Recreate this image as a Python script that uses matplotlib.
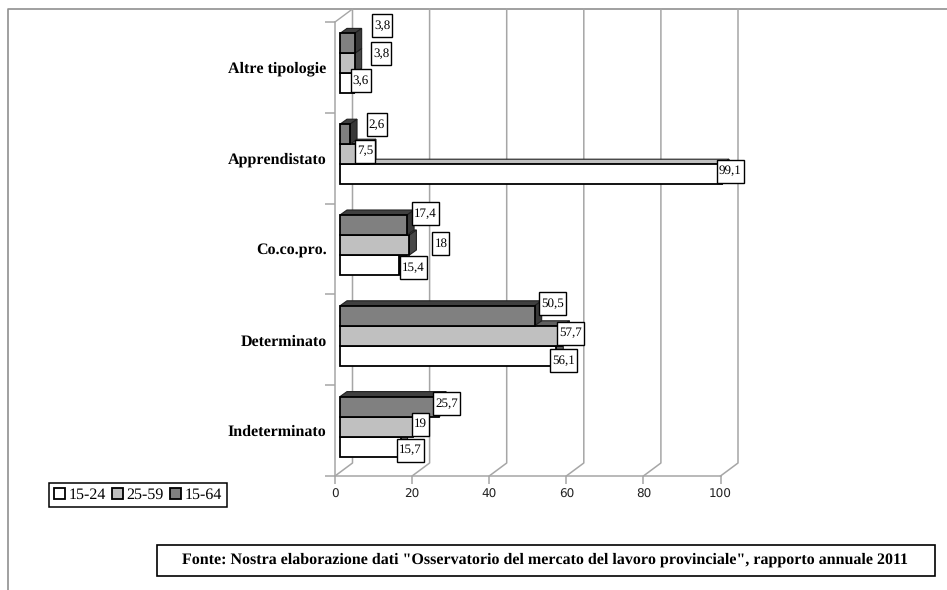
#!/usr/bin/env python3
import matplotlib
matplotlib.use('Agg')
import matplotlib.pyplot as plt
from matplotlib.patches import Polygon, Rectangle

categories = ['Indeterminato', 'Determinato', 'Co.co.pro.', 'Apprendistato', 'Altre tipologie']
ages = ['15-24', '25-59', '15-64']
v_15_24 = [15.7, 56.1, 15.4, 99.1, 3.6]
v_25_59 = [19, 57.7, 18, 7.5, 3.8]
v_15_64 = [25.7, 50.5, 17.4, 2.6, 3.8]
labels_15_24 = ['15,7', '56,1', '15,4', '99,1', '3,6']
labels_25_59 = ['19', '57,7', '18', '7,5', '3,8']
labels_15_64 = ['25,7', '50,5', '17,4', '2,6', '3,8']
x_ticks = [0, 20, 40, 60, 80, 100]

# label boxes were moved by hand in the original: pixels from the bar end / bar centre
shift_15_24 = [(10, 3.5), (7, 5), (14, 2.5), (8, -3), (7, -2.5)]
shift_25_59 = [(7.5, -2.5), (8, -2.5), (31.5, -1.5), (-3.5, -3), (26.5, -10)]
shift_15_64 = [(7.5, -3), (18, -12), (18, -11.5), (27, -9.5), (27.5, -18)]

W, H = 947, 590
plt.rcParams['font.family'] = ['Liberation Serif', 'DejaVu Sans']
plt.rcParams['text.hinting'] = 'none'
plt.rcParams['text.hinting_factor'] = 1
fig = plt.figure(figsize=(W / 100, H / 100), dpi=100, facecolor='white')

# px layer for the sheet frame and the source box
bg = fig.add_axes([0, 0, 1, 1])
bg.set_xlim(0, W)
bg.set_ylim(H, 0)
bg.axis('off')
bg.plot([8, 8, W], [H, 9, 9], color='#909090', lw=1.2)
bg.add_patch(Rectangle((156.5, 544.5), 778, 31, fc='white', ec='black', lw=1.2))
bg.text(545, 560, 'Fonte: Nostra elaborazione dati "Osservatorio del mercato del lavoro provinciale", rapporto annuale 2011',
        ha='center', va='center', fontsize=11.18, weight='bold')

# plot box = front of the 3D chart
L, R, T, B = 335, 720.5, 22, 476
ax = fig.add_axes([L / W, (H - B) / H, (R - L) / W, (B - T) / H])
ax.patch.set_alpha(0)
ax.set_xlim(0, 100)
ax.set_ylim(-0.5, 4.5)
PX = (R - L) / 100
PY = (B - T) / 5

GRID = '#a6a6a6'
wall_x, wall_y = 17.5 / PX, 13 / PY
for t in x_ticks:
    ax.plot([t, t + wall_x, t + wall_x], [-0.5, -0.5 + wall_y, 4.5 + wall_y], color=GRID, lw=1.1, clip_on=False, zorder=1)
ax.plot([0, wall_x], [4.5, 4.5 + wall_y], color=GRID, lw=1, clip_on=False, zorder=1)

for s in ['top', 'right']:
    ax.spines[s].set_visible(False)
for s in ['left', 'bottom']:
    ax.spines[s].set_color(GRID)
    ax.spines[s].set_linewidth(1.1)
ax.set_xticks(x_ticks)
ax.set_xticklabels([str(t) for t in x_ticks], family='DejaVu Sans', fontsize=8.4, color='#222222')
ax.tick_params(axis='x', length=6, width=1.1, color=GRID, pad=3.5)
ax.set_yticks([i - 0.5 for i in range(6)])
ax.set_yticklabels([])
ax.tick_params(axis='y', length=7, width=1.1, color=GRID)
ax.set_yticks(range(5), minor=True)
ax.set_yticklabels(categories, minor=True, fontsize=11.5, weight='bold')
ax.tick_params(axis='y', which='minor', length=0, pad=6)

off_x, off_y = 5 / PX, 4 / PY
depth_x, depth_y = 7 / PX, 5 / PY
bar_h = 20 / PY

# white first, dark last: each front face hides the top of the bar below
series = [
    (v_15_24, labels_15_24, shift_15_24, 'white', '#c0c0c0', '#606060', 20 / PY * -1),
    (v_25_59, labels_25_59, shift_25_59, '#c0c0c0', '#606060', '#484848', 0),
    (v_15_64, labels_15_64, shift_15_64, '#808080', '#404040', '#383838', 20 / PY),
]
handles = []
for n, (vals, labs, shifts, face, top, side, dy) in enumerate(series):
    for i, v in enumerate(vals):
        y = i + off_y + dy
        x1 = v + off_x
        y0, y1 = y - bar_h / 2, y + bar_h / 2
        z = 3 + n
        ax.add_patch(Polygon([(off_x, y1), (x1, y1), (x1 + depth_x, y1 + depth_y), (off_x + depth_x, y1 + depth_y)],
                             fc=top, ec='#202020', lw=0.8, clip_on=False, zorder=z))
        ax.add_patch(Polygon([(x1, y0), (x1 + depth_x, y0 + depth_y), (x1 + depth_x, y1 + depth_y), (x1, y1)],
                             fc=side, ec='#202020', lw=0.8, clip_on=False, zorder=z))
    bars = ax.barh([i + off_y + dy for i in range(5)], vals, left=off_x, height=bar_h,
                   color=face, edgecolor='black', linewidth=1.3, clip_on=False, zorder=3 + n)
    handles.append(bars[0])

# data labels on top of everything
for vals, labs, shifts, face, top, side, dy in series:
    for i, (v, lab, (sx, sy)) in enumerate(zip(vals, labs, shifts)):
        cx = v + off_x + sx / PX
        cy = i + off_y + dy - sy / PY
        w = {2: 17, 3: 20, 4: 27}[len(lab)] / PX
        h = 23 / PY
        ax.add_patch(Rectangle((cx - w / 2, cy - h / 2), w, h, fc='white', ec='black', lw=1,
                               clip_on=False, zorder=8))
        ax.text(cx, cy, lab, ha='center', va='center', fontsize=9.6, clip_on=False, zorder=9)

leg = fig.legend(handles, ages, loc='center', bbox_to_anchor=(138 / W, (H - 495) / H), ncol=3,
                 fontsize=11.3, frameon=True, fancybox=False, edgecolor='black', framealpha=1,
                 handlelength=0.72, handleheight=0.72, handletextpad=0.2, columnspacing=0.4,
                 borderpad=0.3, borderaxespad=0)
leg.get_frame().set_linewidth(1.1)

fig.savefig('out.png', dpi=100)
